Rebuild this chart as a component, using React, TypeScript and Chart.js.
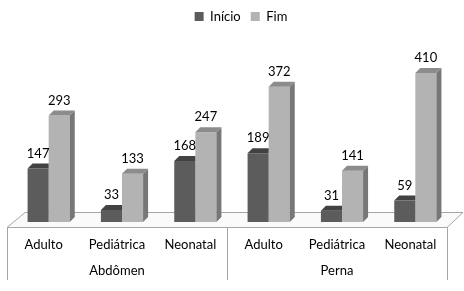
import React, { useEffect, useRef } from 'react';
import { Chart, registerables } from 'chart.js';

Chart.register(...registerables);

// ---- data ----
const categories = ['Adulto', 'Pediátrica', 'Neonatal', 'Adulto', 'Pediátrica', 'Neonatal'];
const groups = ['Abdômen', 'Perna'];
const seriesNames = ['Início', 'Fim'];
const inicio = [147, 33, 168, 189, 31, 59];
const fim = [293, 133, 247, 372, 141, 410];
const yMax = 520;

// ---- style ----
const FONT = 'Lato, "Open Sans", sans-serif';
const frontColors = ['#5c5c5c', '#b3b3b3'];
const topColors = ['#424242', '#8c8c8c'];
const sideColors = ['#474747', '#777777'];
const DX = 5;
const DY = 5;

const floorPlugin = {
  id: 'floor3d',
  afterLayout(chart: any) {
    if (chart.legend) {
      chart.legend.left += 9;
      chart.legend.right += 9;
    }
  },
  beforeDatasetsDraw(chart: any) {
    const { ctx, chartArea } = chart;
    const l = chartArea.left, r = chartArea.right, b = chartArea.bottom;
    ctx.save();
    ctx.fillStyle = '#fafafa';
    ctx.strokeStyle = '#a6a6a6';
    ctx.lineWidth = 1;
    ctx.beginPath();
    ctx.moveTo(l - 5, b + 5.5);
    ctx.lineTo(r - 5, b + 5.5);
    ctx.lineTo(r + 11, b - 9.5);
    ctx.lineTo(l + 13, b - 9.5);
    ctx.closePath();
    ctx.fill();
    ctx.stroke();
    // category box lines
    const xs = chart.scales.x;
    const bounds = [xs.left, (xs.left + xs.right) / 2, xs.right];
    ctx.beginPath();
    bounds.forEach((bx: number) => {
      const px = Math.round(bx - 5) + 0.5;
      ctx.moveTo(px, b + 5.5);
      ctx.lineTo(px, chart.height - 11);
    });
    ctx.stroke();
    ctx.restore();
  },
};

const bars3dPlugin = {
  id: 'bars3d',
  afterDatasetsDraw(chart: any) {
    const ctx = chart.ctx;
    ctx.save();
    chart.data.datasets.forEach((ds: any, di: number) => {
      const meta = chart.getDatasetMeta(di);
      meta.data.forEach((bar: any, i: number) => {
        const { x, y, base, width } = bar.getProps(['x', 'y', 'base', 'width'], true);
        const l = x - width / 2;
        const r = x + width / 2;
        if (di === 1) {
          ctx.fillStyle = sideColors[di];
          ctx.beginPath();
          ctx.moveTo(r, y);
          ctx.lineTo(r + DX, y - DY);
          ctx.lineTo(r + DX, base - DY);
          ctx.lineTo(r, base);
          ctx.closePath();
          ctx.fill();
        }
        ctx.fillStyle = topColors[di];
        ctx.beginPath();
        ctx.moveTo(l, y);
        ctx.lineTo(l + DX, y - DY);
        ctx.lineTo(di === 1 ? r + DX : r, y - DY);
        ctx.lineTo(r, y);
        ctx.closePath();
        ctx.fill();
        // value label
        ctx.fillStyle = '#000';
        ctx.font = `13px ${FONT}`;
        ctx.textAlign = 'center';
        ctx.textBaseline = 'middle';
        ctx.fillText(String(ds.data[i]), x, y - 15);
      });
    });
    ctx.restore();
  },
};

const hiddenGrid = (len: number) => ({
  display: true,
  drawOnChartArea: false,
  drawTicks: true,
  tickLength: len,
  color: 'rgba(0,0,0,0)',
});

function ChartView() {
  const ref = useRef<HTMLCanvasElement>(null);
  useEffect(() => {
    if (!ref.current) return;
    const chart = new Chart(ref.current, {
      type: 'bar',
      data: {
        labels: categories,
        datasets: [
          {
            label: seriesNames[0],
            data: inicio,
            backgroundColor: frontColors[0],
            categoryPercentage: 0.575,
            barPercentage: 1,
          },
          {
            label: seriesNames[1],
            data: fim,
            backgroundColor: frontColors[1],
            categoryPercentage: 0.575,
            barPercentage: 1,
          },
        ],
      },
      options: {
        responsive: false,
        animation: false,
        layout: { padding: { left: 12, right: 12, top: 0, bottom: 12.4 } },
        plugins: {
          legend: {
            position: 'top',
            labels: {
              boxWidth: 9,
              boxHeight: 9,
              color: '#000',
              font: { family: FONT, size: 13 },
              padding: 10,
            },
          },
          tooltip: { enabled: false },
        },
        scales: {
          x: {
            offset: true,
            grid: hiddenGrid(15),
            border: { display: false },
            ticks: {
              color: '#000',
              font: { family: FONT, size: 13 },
              padding: 0,
              labelOffset: -5,
              maxRotation: 0,
              autoSkip: false,
            },
          },
          x2: {
            type: 'category',
            labels: groups,
            position: 'bottom',
            offset: true,
            grid: hiddenGrid(10.4),
            border: { display: false },
            ticks: {
              color: '#000',
              font: { family: FONT, size: 13 },
              padding: 0,
              labelOffset: -5,
              maxRotation: 0,
              autoSkip: false,
            },
          },
          y: { display: false, min: 0, max: yMax },
        },
      },
      plugins: [floorPlugin, bars3dPlugin],
    });
    return () => chart.destroy();
  }, []);
  return <canvas ref={ref} width={464} height={291} style={{ width: 464, height: 291, display: 'block' }} />;
}

export default function App() {
  return (
    <div style={{ position: 'absolute', left: 0, top: 0, width: 464, height: 291, background: '#fff' }}>
      <ChartView />
    </div>
  );
}
